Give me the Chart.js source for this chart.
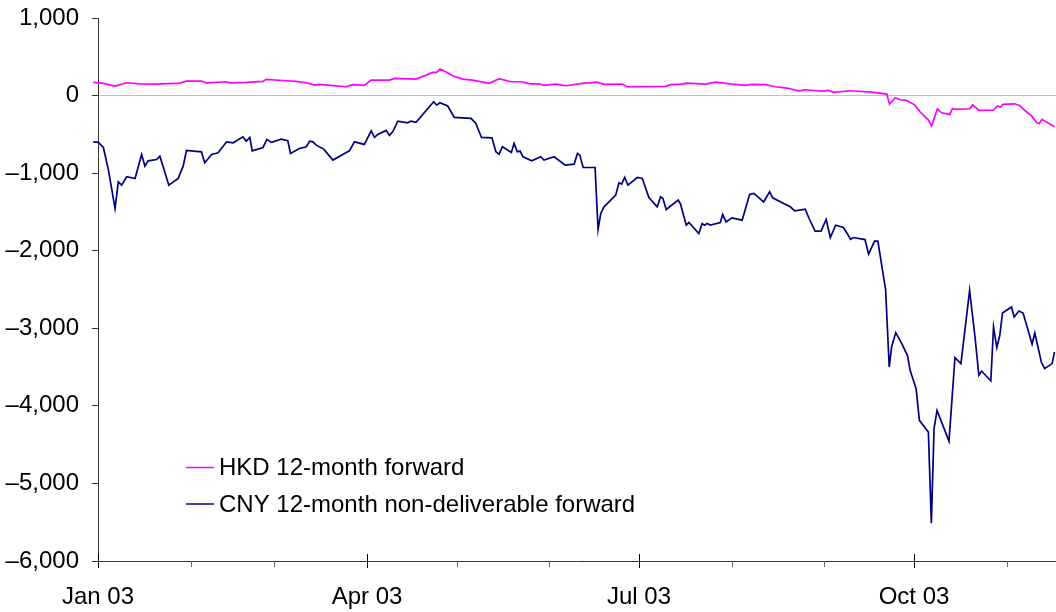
<!DOCTYPE html>
<html>
<head>
<meta charset="utf-8">
<script src="https://cdn.jsdelivr.net/npm/chart.js@4.4.0/dist/chart.umd.min.js"></script>
<style>
  body { margin: 0; background: #fff; }
  #box { width: 1056px; height: 612px; }
</style>
</head>
<body>
<div id="box"><canvas id="grafico"></canvas></div>
<script>
// days counted from 1 Jan 2003
const xTickDays = [0, 31, 59, 90, 120, 151, 181, 212, 243, 273, 304];
const xTickLabels = ['Jan 03', '', '', 'Apr 03', '', '', 'Jul 03', '', '', 'Oct 03', ''];
const yTickValues = [-6000, -5000, -4000, -3000, -2000, -1000, 0, 1000];
const yTickLabels = ['–6,000', '–5,000', '–4,000', '–3,000', '–2,000', '–1,000', '0', '1,000'];

const hkdDays = [-1.6, 1.8, 5.7, 9.6, 14, 19.6, 27.4, 29.6, 34.6, 36.3, 43, 44, 49.6, 55.2, 56.3, 63, 66.3, 69.7, 72.5, 74.1, 78.6,
  83, 85.2, 89.1, 91.4, 97.5, 99.2, 106.4, 112, 113.3, 114.4, 117, 118.6, 122, 125.3, 130.9, 134.2, 138.1, 141.5, 144.8, 147.6,
  149.2, 153.2, 156.5, 162, 167, 169.3, 175.4, 177, 189.9, 191.5, 195.4, 196.6, 203.2, 206.6, 212.1, 216.6, 218.8, 223.3, 226.6,
  230.5, 234.4, 236.6, 242.2, 244.4, 246.1, 251.6, 258.9, 263.9, 264.8, 266.7, 268.4, 270.5, 273.3, 275, 277.8, 278.9, 280.8,
  282.2, 285, 285.8, 287.2, 291.7, 292.6, 294.7, 299.5, 300.9, 301.9, 302.8, 306.7, 308.4, 310.2, 312.4, 314.1, 314.9, 315.8, 320];
const hkdValues = [170, 157, 123, 165, 152, 148, 161, 187, 187, 165, 178, 165, 170, 183, 209, 191, 183, 165, 135, 144, 127,
  114, 140, 131, 200, 200, 222, 213, 299, 299, 342, 294, 256, 213, 200, 157, 217, 178, 178, 152, 152,
  131, 148, 127, 157, 174, 144, 148, 114, 118, 140, 148, 161, 148, 174, 148, 131, 144, 140, 114,
  97, 62, 75, 58, 67, 41, 62, 45, 19, -110, -28, -54, -62, -123, -209, -316, -390, -174,
  -222, -243, -170, -178, -170, -119, -191, -187, -135, -148, -114, -106, -131, -196, -265, -351, -360, -307, -402];

const cnyDays = [-1.6, 0.1, 1.8, 3.5, 5.7, 6.8, 7.9, 9.6, 12.4, 14.6, 15.7, 16.8, 19.6, 20.7, 23.7, 26.8, 28.5, 29.6, 34.6, 35.7,
  38, 40.2, 43, 45.2, 48.5, 49.6, 50.8, 51.6, 55.2, 56.5, 58, 61.3, 63.5, 64.4, 67.4, 69.7, 70.8, 71.9, 73, 75.5, 78.6,
  82.5, 84.1, 85.8, 89.1, 91.4, 92.5, 93.6, 96.4, 97.5, 98.6, 100.3, 103.6, 104.7, 106.4, 112.3, 113.3, 114.4, 117, 119.2,
  124.8, 126.4, 128.3, 131.8, 133.1, 134.2, 135.3, 138.3, 139.2, 140.3, 141.2, 142.2, 145.1, 148.1, 149.2, 152.6, 156.3,
  159.3, 160.4, 161.2, 162.3, 166.3, 167.3, 168.2, 169.3, 173.2, 174.3, 175.2, 176.2, 177.3, 180.4, 182.1, 184.3, 187.1,
  188.2, 189, 190.1, 194.1, 194.9, 196.8, 197.7, 201, 202.1, 202.9, 203.8, 204.9, 208.2, 209, 210.1, 212.1, 215.5, 218,
  219.4, 222.7, 224.7, 225.7, 229.9, 231.6, 233.1, 236.6, 237.9, 239.9, 241.9, 243.6, 245, 246.8, 249.4, 251.8, 252.7,
  256.6, 257.8, 259.8, 260.9, 263.5, 264.7, 265.5, 266.9, 268.9, 270.8, 271.7, 273.7, 274.8, 277.8, 278.8, 279.7, 280.7,
  284.7, 286.7, 288.7, 291.6, 293.4, 294.7, 295.6, 298.7, 299.6, 300.7, 301.7, 302.6, 305.6, 306.5, 308.1, 309.5, 312.5,
  313.4, 315.6, 316.7, 319.2, 320];
const cnyValues = [-596, -604, -669, -961, -1456, -1112, -1155, -1047, -1069, -759, -910, -841, -824, -781, -1155, -1069, -910, -708, -725, -867,
  -759, -738, -596, -609, -532, -587, -540, -712, -669, -565, -604, -561, -583, -746, -682, -660, -587, -596, -639, -690, -832,
  -746, -712, -596, -630, -454, -540, -501, -449, -514, -467, -329, -351, -329, -346, -80, -123, -93, -135, -281,
  -294, -359, -540, -545, -725, -755, -660, -733, -617, -725, -716, -789, -841, -789, -832, -789, -897,
  -884, -746, -768, -927, -927, -1727, -1520, -1434, -1284, -1125, -1142, -1056, -1155, -1056, -1069, -1314, -1434,
  -1305, -1327, -1469, -1348, -1400, -1671, -1637, -1779, -1650, -1671, -1650, -1671, -1637, -1533, -1628, -1576, -1606, -1275,
  -1262, -1370, -1241, -1318, -1400, -1434, -1486, -1465, -1585, -1748, -1748, -1598, -1830, -1671, -1701, -1852, -1830,
  -1856, -2045, -1877, -1877, -2501, -3499, -3241, -3056, -3198, -3348, -3542, -3778, -4187, -4338, -5512, -4294, -4058,
  -4454, -3378, -3455, -2510, -3112, -3606, -3551, -3680, -2983, -3249, -3090, -2803, -2725, -2854, -2777, -2803, -3206,
  -3061, -3435, -3520, -3455, -3306];

const fonte = "'Liberation Sans', Arial, sans-serif";

function pontos(dias, valores) {
  return dias.map((d, i) => ({ x: d, y: valores[i] }));
}

// tick marks on the x axis: long ones at quarters, short ones at months
const marcasX = {
  id: 'marcasX',
  afterDraw(chart) {
    const ctx = chart.ctx;
    const x = chart.scales.x;
    const y0 = chart.chartArea.bottom;
    ctx.save();
    ctx.lineWidth = 1;
    xTickDays.forEach((d, i) => {
      const px = Math.round(x.getPixelForValue(d)) + 0.5;
      ctx.beginPath();
      if (xTickLabels[i] !== '') {
        ctx.strokeStyle = '#000';
        ctx.moveTo(px, y0 - 7);
        ctx.lineTo(px, y0 + 7);
      } else {
        ctx.strokeStyle = '#666';
        ctx.moveTo(px, y0);
        ctx.lineTo(px, y0 + 6);
      }
      ctx.stroke();
    });
    ctx.restore();
  }
};

// legend inside the plot, lower left
const legenda = {
  id: 'legenda',
  afterDraw(chart) {
    const ctx = chart.ctx;
    const linhas = [467.5, 504];
    ctx.save();
    ctx.font = '24px ' + fonte;
    ctx.textBaseline = 'middle';
    ctx.fillStyle = '#000';
    chart.data.datasets.forEach((ds, i) => {
      ctx.strokeStyle = ds.borderColor;
      ctx.lineWidth = 1.5;
      ctx.beginPath();
      ctx.moveTo(186, linhas[i]);
      ctx.lineTo(214, linhas[i]);
      ctx.stroke();
      ctx.fillText(ds.label, 219, linhas[i] + 1);
    });
    ctx.restore();
  }
};

const ctx = document.getElementById('grafico');

new Chart(ctx, {
  type: 'line',
  data: {
    datasets: [{
      label: 'HKD 12-month forward',
      data: pontos(hkdDays, hkdValues),
      borderColor: '#ff00ff',
      borderWidth: 1.7,
      pointRadius: 0,
      tension: 0,
      clip: { left: 6, top: 0, right: 0, bottom: 0 }
    }, {
      label: 'CNY 12-month non-deliverable forward',
      data: pontos(cnyDays, cnyValues),
      borderColor: '#000080',
      borderWidth: 1.7,
      pointRadius: 0,
      tension: 0,
      clip: { left: 6, top: 0, right: 0, bottom: 0 }
    }]
  },
  options: {
    responsive: true,
    maintainAspectRatio: false,
    animation: false,
    layout: { padding: { top: 18, right: 0, bottom: 0, left: 0 } },
    plugins: {
      legend: { display: false },
      tooltip: { enabled: false }
    },
    scales: {
      x: {
        type: 'linear',
        min: 0,
        max: 320.5,
        afterBuildTicks: (s) => { s.ticks = xTickDays.map(v => ({ value: v })); },
        afterFit: (s) => { s.height = 51; s.paddingLeft = 0; s.paddingRight = 0; },
        ticks: {
          autoSkip: false,
          maxRotation: 0,
          padding: 22,
          color: '#000',
          font: { family: fonte, size: 24 },
          callback: (v) => xTickLabels[xTickDays.indexOf(v)]
        },
        grid: { color: 'rgba(0,0,0,0)', drawTicks: false },
        border: { color: '#333', width: 1 }
      },
      y: {
        min: -6000,
        max: 1000,
        afterBuildTicks: (s) => { s.ticks = yTickValues.map(v => ({ value: v })); },
        afterFit: (s) => { s.width = 98; s.paddingTop = 0; s.paddingBottom = 0; },
        ticks: {
          padding: 13,
          color: '#000',
          font: { family: fonte, size: 24 },
          callback: (v) => yTickLabels[yTickValues.indexOf(v)]
        },
        grid: {
          color: (c) => (c.tick && c.tick.value === 0 ? '#c0c0c0' : 'rgba(0,0,0,0)'),
          tickColor: '#333',
          tickLength: 6
        },
        border: { color: '#333', width: 1 }
      }
    }
  },
  plugins: [marcasX, legenda]
});
</script>
</body>
</html>
